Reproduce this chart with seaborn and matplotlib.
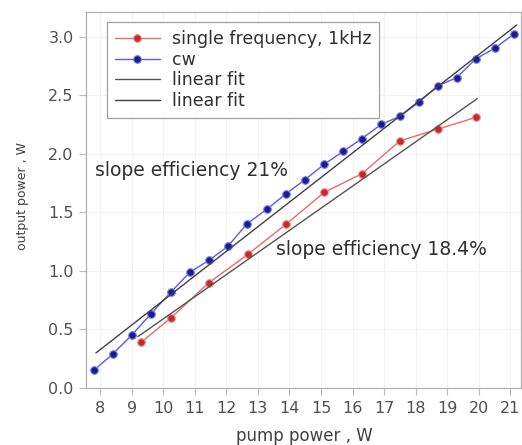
import matplotlib
matplotlib.use("Agg")
import matplotlib.pyplot as plt
import seaborn as sns
import numpy as np
import pandas as pd

# data
cw_x = [7.8, 8.4, 9.0, 9.6, 10.25, 10.85, 11.45, 12.05, 12.65, 13.3, 13.9, 14.5, 15.1, 15.7,
        16.3, 16.9, 17.5, 18.1, 18.7, 19.3, 19.9, 20.5, 21.1]
cw_y = [0.15, 0.29, 0.45, 0.63, 0.82, 0.99, 1.09, 1.21, 1.40, 1.53, 1.66, 1.78, 1.91, 2.02,
        2.13, 2.25, 2.32, 2.44, 2.58, 2.65, 2.81, 2.90, 3.02]
sf_x = [9.3, 10.25, 11.45, 12.68, 13.9, 15.1, 16.3, 17.5, 18.7, 19.9]
sf_y = [0.39, 0.60, 0.90, 1.14, 1.40, 1.67, 1.83, 2.11, 2.21, 2.31]

fit_cw_range = [7.87, 21.2]
fit_cw_slope, fit_cw_icpt = 0.21, -1.353
fit_sf_range = [9.2, 19.95]
fit_sf_slope, fit_sf_icpt = 0.189, -1.30

labels = ["single frequency, 1kHz", "cw", "linear fit", "linear fit"]
xticks = list(range(8, 22))
yticks = [0.0, 0.5, 1.0, 1.5, 2.0, 2.5, 3.0]
ann1 = "slope efficiency 21%"
ann2 = "slope efficiency 18.4%"

sns.set_style("white")
plt.rcParams['font.family'] = ['DejaVu Sans']

fig = plt.figure(figsize=(5.22, 4.45), dpi=100)
ax = fig.add_axes([0.165, 0.128, 0.834, 0.845])

fx1 = np.array(fit_sf_range)
fx2 = np.array(fit_cw_range)
df_sf = pd.DataFrame({"x": sf_x, "y": sf_y})
df_cw = pd.DataFrame({"x": cw_x, "y": cw_y})

sns.lineplot(data=df_sf, x="x", y="y", ax=ax, color="#e86a6a", lw=1.0, marker="o",
             markersize=5.5, markerfacecolor="#c42a2a", markeredgecolor="#f09090",
             markeredgewidth=0.8, label=labels[0])
sns.lineplot(data=df_cw, x="x", y="y", ax=ax, color="#5a5af0", lw=1.0, marker="o",
             markersize=5.5, markerfacecolor="#1c1c90", markeredgecolor="#8080f0",
             markeredgewidth=0.8, label=labels[1])
sns.lineplot(x=fx1, y=fit_sf_slope * fx1 + fit_sf_icpt, ax=ax, color="#5a5050", lw=1.0,
             label=labels[2])
sns.lineplot(x=fx2, y=fit_cw_slope * fx2 + fit_cw_icpt, ax=ax, color="#404048", lw=1.0,
             label=labels[3])

ax.set_xlim(7.56, 21.35)
ax.set_ylim(0.0, 3.21)
ax.set_xticks(xticks)
ax.set_yticks(yticks)
ax.set_yticklabels([f"{v:.1f}" for v in yticks])
ax.grid(True, color="#f3f3f3", lw=0.8)
for s in ax.spines.values():
    s.set_color("#b0b0b0")
    s.set_linewidth(0.9)
ax.tick_params(axis="both", which="major", length=5, color="#b8b8b8",
               labelsize=11.5, labelcolor="#505050", direction="out",
               bottom=True, left=True, pad=4)
ax.set_xlabel("pump power , W", fontsize=12, color="#404040", va="center")
ax.set_ylabel("output power , W", fontsize=9, color="#404040", va="center")
ax.xaxis.set_label_coords(0.501, -0.128)
ax.yaxis.set_label_coords(-0.147, 0.51)

ax.text(7.84, 1.86, ann1, fontsize=13.5, color="#303030", va="center", ha="left")
ax.text(13.57, 1.18, ann2, fontsize=13.5, color="#303030", va="center", ha="left")

leg = ax.legend(loc="upper left", bbox_to_anchor=(0.048, 0.973), fontsize=12.5,
                frameon=True, fancybox=False, edgecolor="#a0a0a0", framealpha=1,
                handlelength=2.6, handletextpad=0.7, labelspacing=0.15, borderpad=0.45,
                borderaxespad=0)
leg.get_frame().set_linewidth(0.9)
for t in leg.get_texts():
    t.set_color("#303030")

fig.savefig("out.png", dpi=100)
